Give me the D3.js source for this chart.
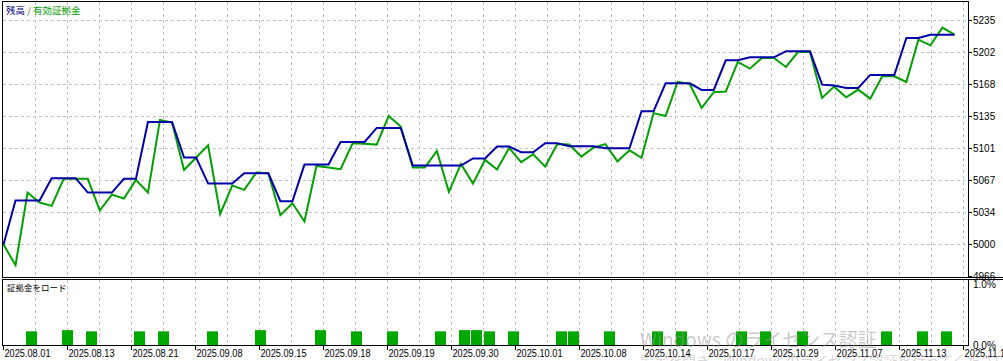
<!DOCTYPE html>
<html>
<head>
<meta charset="utf-8">
<script src="https://cdn.jsdelivr.net/npm/d3@7"></script>
<style>
  body { margin: 0; background: #fff; }
  svg { display: block; font-family: "Liberation Sans", Arial, sans-serif; }
</style>
</head>
<body>
<svg id="chart" width="1003" height="361"></svg>
<script>
// balance / equity per trade (index = trade number)
const balance = [
  5000, 5046.2, 5046.2, 5046.2, 5069.7, 5069.7, 5069.7, 5054.6, 5054.6, 5054.6,
  5069, 5069, 5128.8, 5128.8, 5128.8, 5091.4, 5091.4, 5064, 5064, 5064,
  5074.9, 5074.9, 5074.9, 5045.5, 5045.5, 5084, 5084, 5084, 5107.8, 5107.8,
  5107.8, 5122.5, 5122.5, 5122.5, 5083, 5083, 5083, 5083, 5083, 5090.5,
  5090.5, 5102.9, 5102.9, 5097, 5097, 5106.4, 5106.4, 5103.2, 5103.2, 5103.2,
  5101.2, 5101.2, 5101.2, 5140, 5140, 5169.4, 5169.4, 5169.4, 5162.4, 5162.4,
  5193.6, 5193.6, 5196.7, 5196.7, 5196.7, 5203, 5203, 5203, 5168, 5167,
  5164.5, 5164.5, 5178.2, 5178.2, 5178.2, 5217, 5217, 5220.5, 5220.5, 5220.5
];
const equity = [
  5000, 4978.3, 5054.6, 5044.1, 5040.6, 5069, 5069, 5069, 5035.7, 5052.5,
  5048.3, 5067.9, 5054.6, 5130.9, 5128.1, 5078.4, 5091.4, 5104.3, 5032.2, 5062,
  5057.4, 5075.6, 5074.9, 5030.8, 5043.4, 5024.2, 5082.6, 5081, 5079.1, 5106.4,
  5106, 5105, 5135.1, 5123.9, 5080.9, 5080.9, 5098.4, 5055.3, 5084.7, 5064,
  5088.9, 5078.8, 5101.5, 5086.5, 5094.9, 5081.9, 5105.7, 5105, 5092.4, 5101.7,
  5105.5, 5087.3, 5099, 5091.2, 5138.1, 5135, 5171, 5168.7, 5143.5, 5160,
  5160.7, 5191.8, 5184.8, 5196, 5196, 5186.6, 5202.3, 5202.3, 5154, 5165.9,
  5154.7, 5162.8, 5153.3, 5176.8, 5176.8, 5170.8, 5215.3, 5209.3, 5227.9, 5220.5
];

// margin load (%) at the trades where it was used
const marginIdx  = [2, 5, 7, 11, 13, 17, 21, 26, 29, 32, 36, 38, 39, 40, 42, 46, 47, 50, 54, 56, 61, 63, 66, 73, 76, 78];
const marginLoad = [0.23, 0.25, 0.23, 0.23, 0.23, 0.23, 0.25, 0.25, 0.23, 0.23, 0.23, 0.25, 0.25, 0.23, 0.23, 0.23, 0.23, 0.23, 0.23, 0.23, 0.23, 0.23, 0.23, 0.23, 0.23, 0.23];

const yTicks = [4966, 5000, 5034, 5067, 5101, 5135, 5168, 5202, 5235];
const dateLabels = [
  '2025.08.01', '2025.08.13', '2025.08.21', '2025.09.08', '2025.09.15', '2025.09.18',
  '2025.09.19', '2025.09.30', '2025.10.01', '2025.10.08', '2025.10.14', '2025.10.17',
  '2025.10.29', '2025.11.07', '2025.11.13', '2025.11.19'
];
const pctTicks = [0, 1];

const svg = d3.select('#chart');

const left = 2.5, right = 968.5;
const mainTop = 1.5, mainBottom = 277.5;
const subTop = 279.5, subBottom = 345.5;

const x = d3.scaleLinear().domain([0, balance.length - 1]).range([3.5, 954.5]);
const y = d3.scaleLinear().domain([4966.4, 5235.4]).range([276.5, 20.5]);
const gridX = d3.scaleLinear().domain([0, 30]).range([3.5, 963.5]);
const yM = d3.scaleLinear().domain([0, 1]).range([subBottom, 284]);

// clip for lines
svg.append('clipPath').attr('id', 'mainClip')
  .append('rect').attr('x', left).attr('y', mainTop).attr('width', right - left).attr('height', mainBottom - mainTop);

// Grid
const grid = svg.append('g')
  .attr('stroke', '#c0c0c0')
  .attr('stroke-dasharray', '3,3')
  .attr('shape-rendering', 'crispEdges');

grid.selectAll('.hgrid')
  .data(yTicks.slice(1))
  .enter().append('line')
  .attr('x1', left).attr('x2', right)
  .attr('y1', d => Math.round(y(d) - 0.5) + 0.5)
  .attr('y2', d => Math.round(y(d) - 0.5) + 0.5);

const vIdx = d3.range(1, 31);
grid.selectAll('.vgrid')
  .data(vIdx)
  .enter().append('line')
  .attr('x1', d => gridX(d)).attr('x2', d => gridX(d))
  .attr('y1', mainTop).attr('y2', mainBottom);

grid.selectAll('.vgrid2')
  .data(vIdx)
  .enter().append('line')
  .attr('x1', d => gridX(d)).attr('x2', d => gridX(d))
  .attr('y1', subTop).attr('y2', subBottom);

// Equity and balance lines
const line = d3.line().x((d, i) => x(i)).y(d => y(d));
const lines = svg.append('g').attr('clip-path', 'url(#mainClip)');

lines.append('path')
  .datum(equity)
  .attr('d', line)
  .attr('fill', 'none')
  .attr('stroke', '#00a000')
  .attr('stroke-width', 2);

lines.append('path')
  .datum(balance)
  .attr('d', line)
  .attr('fill', 'none')
  .attr('stroke', '#0000a8')
  .attr('stroke-width', 2);

// Margin load bars
svg.append('g').selectAll('rect')
  .data(marginIdx)
  .enter().append('rect')
  .attr('x', d => Math.round(x(d) - 1.5))
  .attr('width', 11)
  .attr('y', (d, i) => yM(marginLoad[i]))
  .attr('height', (d, i) => subBottom - yM(marginLoad[i]))
  .attr('fill', '#00a800');

// Panel borders
const borders = svg.append('g')
  .attr('fill', 'none')
  .attr('stroke', '#000')
  .attr('shape-rendering', 'crispEdges');
borders.append('rect').attr('x', left).attr('y', mainTop).attr('width', right - left).attr('height', mainBottom - mainTop);
borders.append('rect').attr('x', left).attr('y', subTop).attr('width', right - left).attr('height', subBottom - subTop);
borders.append('line').attr('x1', right).attr('x2', 1003).attr('y1', mainBottom).attr('y2', mainBottom);
borders.append('line').attr('x1', right).attr('x2', 1003).attr('y1', subTop).attr('y2', subTop);

// Right axis
const yAxis = svg.append('g').attr('font-size', '10px').attr('fill', '#000');
yAxis.selectAll('text')
  .data(yTicks)
  .enter().append('text')
  .attr('x', 973)
  .attr('y', d => y(d))
  .attr('dy', '0.35em')
  .text(d => d);
yAxis.selectAll('line')
  .data(yTicks)
  .enter().append('line')
  .attr('x1', right).attr('x2', right + 3)
  .attr('y1', d => Math.round(y(d) - 0.5) + 0.5)
  .attr('y2', d => Math.round(y(d) - 0.5) + 0.5)
  .attr('stroke', '#000')
  .attr('shape-rendering', 'crispEdges');

svg.append('g').attr('font-size', '10px').attr('fill', '#000')
  .selectAll('text')
  .data(pctTicks)
  .enter().append('text')
  .attr('x', 973)
  .attr('y', d => yM(d))
  .attr('dy', '0.35em')
  .text(d => d.toFixed(1) + '%');

// Date axis
const xAxis = svg.append('g').attr('font-size', '10px').attr('fill', '#000');
xAxis.selectAll('text')
  .data(dateLabels)
  .enter().append('text')
  .attr('x', (d, i) => gridX(i * 2) + 1)
  .attr('y', 356.5)
  .attr('textLength', 46)
  .attr('lengthAdjust', 'spacingAndGlyphs')
  .text(d => d);
xAxis.selectAll('line')
  .data(dateLabels)
  .enter().append('line')
  .attr('x1', (d, i) => gridX(i * 2)).attr('x2', (d, i) => gridX(i * 2))
  .attr('y1', subBottom).attr('y2', subBottom + 4)
  .attr('stroke', '#000')
  .attr('shape-rendering', 'crispEdges');

// Titles
const title = svg.append('text')
  .attr('x', 6).attr('y', 13.5)
  .attr('font-family', '"Noto Sans CJK JP", sans-serif')
  .attr('font-size', '9.5px');
title.append('tspan').attr('fill', '#000080').text('残高');
title.append('tspan').attr('fill', '#806040').text(' / ');
title.append('tspan').attr('fill', '#00a000').text('有効証拠金');

svg.append('text')
  .attr('x', 7).attr('y', 291)
  .attr('font-family', '"Noto Sans CJK JP", sans-serif')
  .attr('font-size', '8.5px')
  .attr('fill', '#000')
  .text('証拠金をロード');

// OS activation watermark over the screenshot
svg.append('text')
  .attr('x', 640).attr('y', 347)
  .attr('font-family', '"Noto Sans CJK JP", sans-serif')
  .attr('font-size', '19px')
  .attr('fill', 'rgba(150,150,150,0.5)')
  .text('Windows のライセンス認証');
svg.append('text')
  .attr('x', 640).attr('y', 366)
  .attr('font-family', '"Noto Sans CJK JP", sans-serif')
  .attr('font-size', '14px')
  .attr('fill', 'rgba(150,150,150,0.4)')
  .text('設定を開き、Windows のライセンス認証を行ってください。');
</script>
</body>
</html>
